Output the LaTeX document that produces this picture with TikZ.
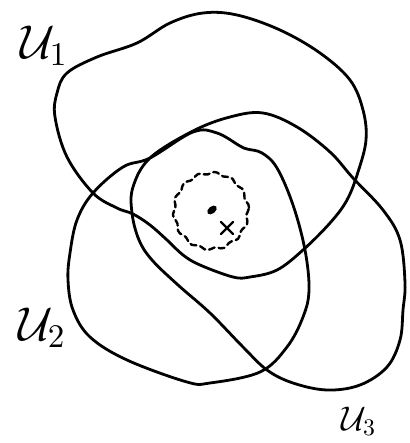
\documentclass[tikz,border=0pt]{standalone}
\usepackage{amsmath}
\begin{document}
\begin{tikzpicture}[x=1pt,y=-1pt,line join=round,line cap=round,
  rim/.style={line width=2.8pt},
  lbl/.style={font=\Large,scale=3.3,inner sep=0pt}]
\useasboundingbox (0,0) rectangle (409,443);
\draw[rim] plot[smooth cycle,tension=0.6] coordinates {(55,117) (57,93) (67,73) (97,57) (137,43) (170,23) (203,13) (237,15) (280,30) (320,53) (350,80) (363,110) (366,140) (358,172) (347,200) (330,223) (303,250) (277,270) (250,277) (233,277) (200,265) (183,255) (167,240) (150,225) (133,214) (117,208) (93,193) (67,157)};
\draw[rim] plot[smooth cycle,tension=0.6] coordinates {(150,158) (193,132) (217,133) (240,146) (247,149) (262,153) (277,168) (293,205) (305,250) (309,290) (303,317) (287,347) (260,372) (210,383) (187,382) (127,360) (90,337) (73,310) (68,280) (70,253) (77,220) (93,193) (123,167)};
\draw[rim] plot[smooth cycle,tension=0.6] coordinates {(132,213) (133,187) (150,158) (193,131) (230,117) (263,113) (297,127) (330,152) (353,178) (383,210) (400,240) (405,283) (403,310) (400,340) (387,367) (360,385) (327,390) (293,383) (267,370) (243,347) (210,313) (178,285) (152,260) (139,240)};
\draw[line width=2.4pt,dash pattern=on 6pt off 4pt] plot[smooth cycle,domain=0:355,samples=72] ({211+(37+1.3*sin(14*\x))*cos(\x)},{211-(38+1.3*sin(14*\x))*sin(\x)});
\fill[rotate around={40:(212,210)}] (212,210) ellipse (5.5 and 3.5);
\draw[line width=2.4pt] (221,222) -- (233,234) (233,222) -- (221,234);
\node[lbl] (u1) at (44,46) {$\mathcal{U}_1$};
\node[lbl] (u2) at (42,328) {$\mathcal{U}_2$};
\node[lbl,scale=0.72] (u3) at (359,421) {$\mathcal{U}_3$};
\end{tikzpicture}
\end{document}
